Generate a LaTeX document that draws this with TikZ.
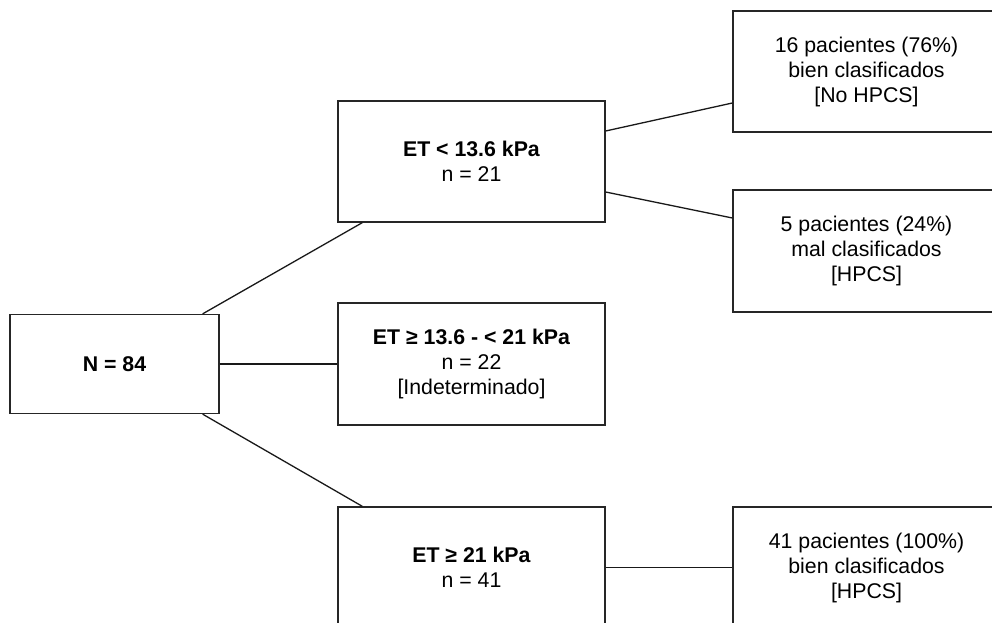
\documentclass[tikz,border=0pt]{standalone}
\usepackage{fontspec}
\setmainfont{Liberation Sans}
\begin{document}
\begin{tikzpicture}[x=1pt,y=-1pt,
  box/.style={draw=black!85, line width=1.3pt, fill=white, align=center, inner sep=0pt,
    font=\fontsize{21.3}{25}\selectfont},
  conn/.style={draw=black!90, line width=1.3pt}]
\useasboundingbox (0,0) rectangle (992,623);
\clip (0,0) rectangle (992,623);
\node[box, minimum width=209pt, minimum height=99pt] (n) at (114.5,364) {\textbf{N = 84}};
\node[box, minimum width=267pt, minimum height=121pt] (a) at (471.5,161.5) {\textbf{ET < 13.6 kPa}\\n = 21};
\node[box, minimum width=267pt, minimum height=122pt] (b) at (471.5,364) {\textbf{ET ≥ 13.6 - < 21 kPa}\\n = 22\\{[Indeterminado]}};
\node[box, minimum width=267pt, minimum height=121pt] (c) at (471.5,567.5) {\textbf{ET ≥ 21 kPa}\\n = 41};
\node[box, minimum width=267pt, minimum height=121pt] (r1) at (866.5,71.5) {16 pacientes (76\%)\\bien clasificados\\{[No HPCS]}};
\node[box, minimum width=267pt, minimum height=122pt] (r2) at (866.5,251) {5 pacientes (24\%)\\mal clasificados\\{[HPCS]}};
\node[box, minimum width=267pt, minimum height=121pt] (r3) at (866.5,567.5) {41 pacientes (100\%)\\bien clasificados\\{[HPCS]}};
\draw[conn] ([xshift=-17pt]n.north east) -- ([xshift=25pt]a.south west);
\draw[conn] (n.east) -- (b.west);
\draw[conn] ([xshift=-17pt]n.south east) -- ([xshift=25pt]c.north west);
\draw[conn] ([yshift=30.5pt]a.east) -- ([yshift=-31.5pt]r1.west);
\draw[conn] ([yshift=-30.5pt]a.east) -- ([yshift=33pt]r2.west);
\draw[conn] (c.east) -- (r3.west);
\end{tikzpicture}
\end{document}
